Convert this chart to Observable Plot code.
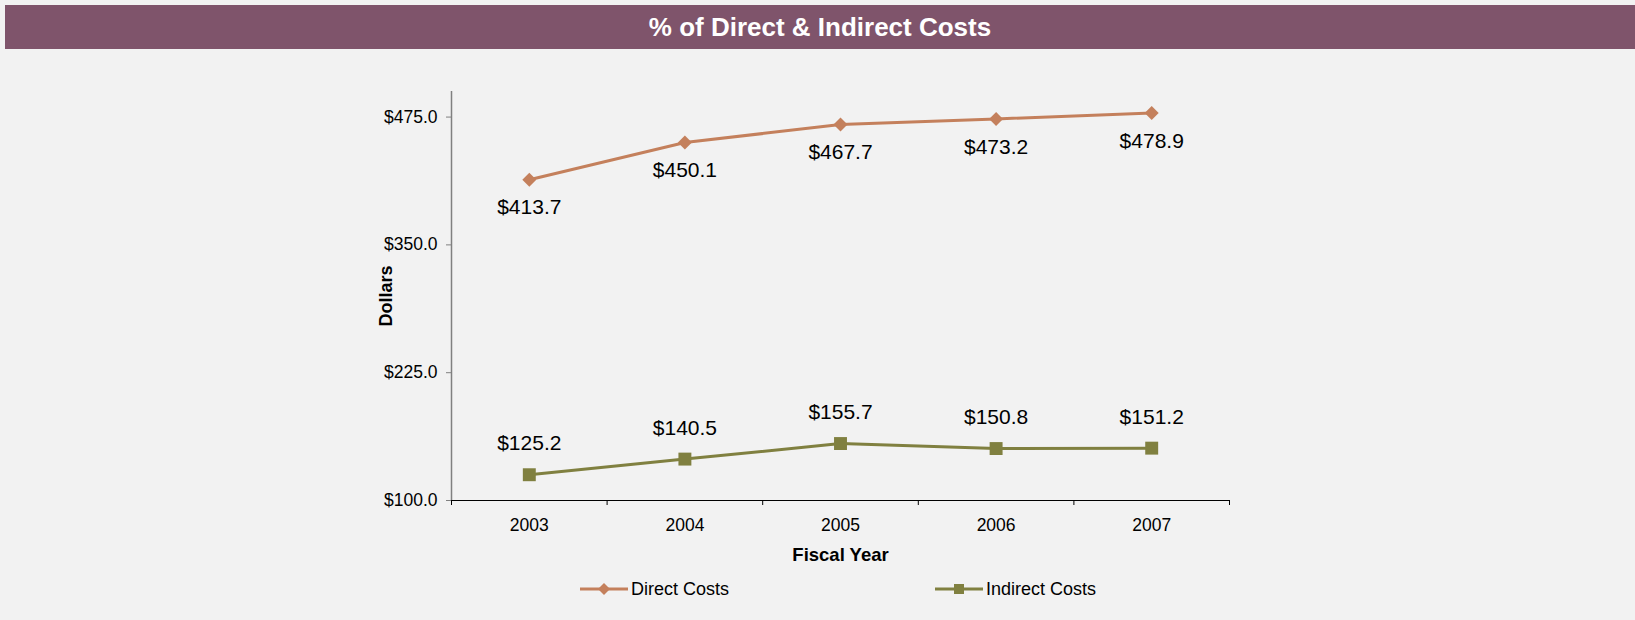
<!DOCTYPE html>
<html>
<head>
<meta charset="utf-8">
<script src="https://cdn.jsdelivr.net/npm/d3@7"></script>
<script src="https://cdn.jsdelivr.net/npm/@observablehq/plot@0.6"></script>
<style>
  html, body { margin: 0; padding: 0; background: #f2f2f2; width: 1635px; height: 620px; overflow: hidden; font-family: "Liberation Sans", Arial, sans-serif; }
  #title { position: absolute; left: 5px; top: 5px; width: 1630px; height: 44px; background: #7f546b; color: #fff; font-weight: bold; font-size: 26px; line-height: 44px; text-align: center; }
  #chart { position: absolute; left: 0; top: 50px; }
  .leg { position: absolute; top: 578px; height: 22px; display: flex; align-items: center; font-size: 18px; color: #000; }
  .leg svg { margin-right: 3px; }
</style>
</head>
<body>
<div id="title">% of Direct &amp; Indirect Costs</div>
<div id="chart"></div>
<div class="leg" style="left:580px"><svg width="48" height="16"><line x1="0" y1="8" x2="48" y2="8" stroke="#c4805c" stroke-width="3"/><path d="M24,2 L30,8 L24,14 L18,8 Z" fill="#c4805c"/></svg>Direct Costs</div>
<div class="leg" style="left:935px"><svg width="48" height="16"><line x1="0" y1="8" x2="48" y2="8" stroke="#808040" stroke-width="3"/><rect x="19" y="3" width="10" height="10" fill="#808040"/></svg>Indirect Costs</div>
<script>
const years = [2003, 2004, 2005, 2006, 2007];
const directCosts = [413.7, 450.1, 467.7, 473.2, 478.9];
const indirectCosts = [125.2, 140.5, 155.7, 150.8, 151.2];
const yTicks = [100, 225, 350, 475];
const xBoundaries = [2002.5, 2003.5, 2004.5, 2005.5, 2006.5, 2007.5];

const direct = years.map((y, i) => ({year: y, value: directCosts[i]}));
const indirect = years.map((y, i) => ({year: y, value: indirectCosts[i]}));
const fmt = v => "$" + v.toFixed(1);
const cDirect = "#c4805c", cIndirect = "#808040";

const chart = Plot.plot({
  width: 1635,
  height: 520,
  marginLeft: 451,
  marginRight: 406,
  marginTop: 41,
  marginBottom: 70,
  style: {background: "transparent", fontFamily: "'Liberation Sans', Arial, sans-serif", color: "#000"},
  x: {type: "linear", domain: [2002.5, 2007.5]},
  y: {type: "linear", domain: [100, 500]},
  marks: [
    Plot.ruleX([2002.5], {y1: 100, y2: 500, stroke: "#808080", strokeWidth: 1.5}),
    Plot.ruleY([100], {x1: 2002.5, x2: 2007.5, stroke: "#000", strokeWidth: 1.2}),
    Plot.axisY({ticks: yTicks, tickSize: 5, tickPadding: 9, tickFormat: fmt, fontSize: 17.5, label: null, stroke: "#808080"}),
    Plot.axisX({ticks: xBoundaries, tickSize: 5, tickFormat: () => "", label: null, stroke: "#000"}),
    Plot.axisX({ticks: years, tickSize: 0, tickPadding: 18, tickFormat: d => String(d), fontSize: 17.5, label: null}),
    Plot.text(["Dollars"], {frameAnchor: "left", dx: -65, rotate: -90, fontWeight: "bold", fontSize: 18, textAnchor: "middle"}),
    Plot.text(["Fiscal Year"], {frameAnchor: "bottom", dy: 55, fontWeight: "bold", fontSize: 18.5, textAnchor: "middle", lineAnchor: "middle"}),
    Plot.line(direct, {x: "year", y: "value", stroke: cDirect, strokeWidth: 3}),
    Plot.line(indirect, {x: "year", y: "value", stroke: cIndirect, strokeWidth: 3}),
    Plot.dot(direct, {x: "year", y: "value", symbol: "diamond2", r: 6.3, fill: cDirect, stroke: "none"}),
    Plot.dot(indirect, {x: "year", y: "value", symbol: "square", r: 7.3, fill: cIndirect, stroke: "none"}),
    Plot.text(direct, {x: "year", y: "value", text: d => fmt(d.value), dy: 28, fontSize: 21, lineAnchor: "middle", fill: "#000"}),
    Plot.text(indirect, {x: "year", y: "value", text: d => fmt(d.value), dy: -31, fontSize: 21, lineAnchor: "middle", fill: "#000"})
  ]
});
document.getElementById("chart").appendChild(chart);
</script>
</body>
</html>
